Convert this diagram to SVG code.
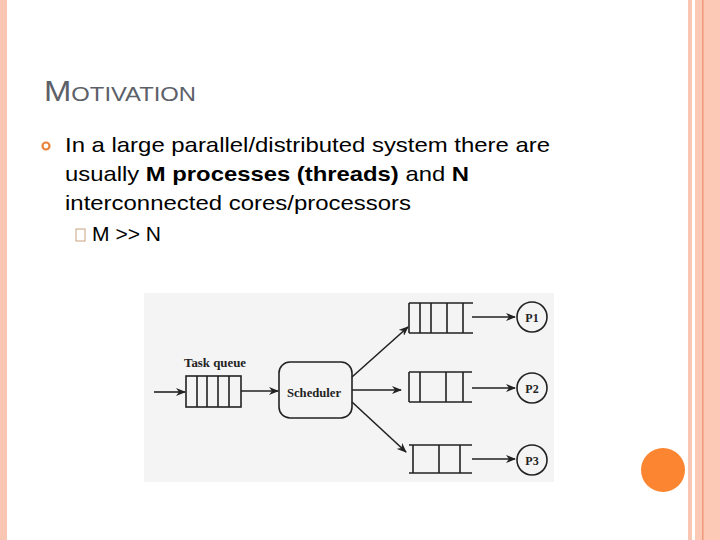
<svg xmlns="http://www.w3.org/2000/svg" width="720" height="540" viewBox="0 0 720 540">
<style>
.t{font-family:"Liberation Sans",Arial,sans-serif;fill:#000;font-size:21px}
.s{font-family:"Liberation Serif","Times New Roman",serif;fill:#222;font-weight:bold}
.ln{stroke:#222;stroke-width:1.6;fill:none}
.ar{stroke:#222;stroke-width:1.6;fill:none;marker-end:url(#a)}
</style>
<defs><marker id="a" markerWidth="10" markerHeight="8" refX="9" refY="4" orient="auto" markerUnits="userSpaceOnUse"><path d="M0,0 L10,4 L0,8 L3,4 Z" fill="#222"/></marker></defs>
<rect width="720" height="540" fill="#fff"/>
<rect x="0" y="0" width="7" height="540" fill="#f9c6b3"/>
<rect x="688" y="0" width="4" height="540" fill="#f9c6b3"/>
<rect x="695" y="0" width="25" height="540" fill="#fbc9b5"/>
<rect x="702" y="0" width="1.5" height="540" fill="#ef9a7c"/>
<circle cx="663" cy="470" r="22" fill="#fb8530"/>
<text x="44" y="101" textLength="152" lengthAdjust="spacingAndGlyphs" style="font-family:'Liberation Sans',Arial,sans-serif;fill:#5c6068"><tspan font-size="29">M</tspan><tspan font-size="21">OTIVATION</tspan></text>
<circle cx="46" cy="146" r="3.5" fill="none" stroke="#e8843a" stroke-width="2.2"/>
<text class="t" x="65" y="152" textLength="485" lengthAdjust="spacingAndGlyphs">In a large parallel/distributed system there are</text>
<text class="t" x="65" y="181" textLength="404" lengthAdjust="spacingAndGlyphs">usually <tspan font-weight="bold">M processes (threads)</tspan> and <tspan font-weight="bold">N</tspan></text>
<text class="t" x="65" y="210" textLength="346" lengthAdjust="spacingAndGlyphs">interconnected cores/processors</text>
<rect x="76" y="229" width="9" height="12" fill="none" stroke="#c9a27f" stroke-width="1"/>
<text class="t" x="92" y="241" font-size="18" textLength="69" lengthAdjust="spacingAndGlyphs">M &gt;&gt; N</text>
<rect x="144" y="293" width="410" height="189" fill="#f4f4f4"/>
<g id="taskqueue">
<text class="s" x="184" y="367" font-size="13" textLength="62" lengthAdjust="spacingAndGlyphs">Task queue</text>
<rect class="ln" x="186" y="376" width="55" height="31"/>
<path class="ln" d="M197,376V407M207,376V407M218,376V407M229,376V407"/>
</g>
<g id="scheduler">
<rect class="ln" x="279" y="362" width="73" height="56" rx="11"/>
<text class="s" x="287" y="397" font-size="13" textLength="54" lengthAdjust="spacingAndGlyphs">Scheduler</text>
</g>
<g id="q1"><path class="ln" d="M409,303H473M409,333H473M409,303V333M420,303V333M431,303V333M447,303V333M463,303V333"/></g>
<g id="q2"><path class="ln" d="M409,372H472M409,402H472M409,372V402M420,372V402M446,372V402M463,372V402"/></g>
<g id="q3"><path class="ln" d="M409,445H472M409,473H472M413,445V473M439,445V473M460,445V473"/></g>
<g id="p1"><circle class="ln" cx="532" cy="317" r="15"/><text class="s" x="532" y="322" font-size="12" text-anchor="middle">P1</text></g>
<g id="p2"><circle class="ln" cx="532" cy="388" r="15"/><text class="s" x="532" y="393" font-size="12" text-anchor="middle">P2</text></g>
<g id="p3"><circle class="ln" cx="532" cy="460" r="15"/><text class="s" x="532" y="465" font-size="12" text-anchor="middle">P3</text></g>
<g id="connectors">
<line class="ar" x1="154" y1="392" x2="185" y2="392"/>
<line class="ar" x1="241" y1="391" x2="278" y2="391"/>
<line class="ar" x1="352" y1="377" x2="408" y2="327"/>
<line class="ar" x1="352" y1="390" x2="401" y2="390"/>
<line class="ar" x1="352" y1="402" x2="406" y2="452"/>
<line class="ar" x1="472" y1="317" x2="515" y2="317"/>
<line class="ar" x1="472" y1="388" x2="515" y2="388"/>
<line class="ar" x1="472" y1="459" x2="515" y2="459"/>
</g>
</svg>
